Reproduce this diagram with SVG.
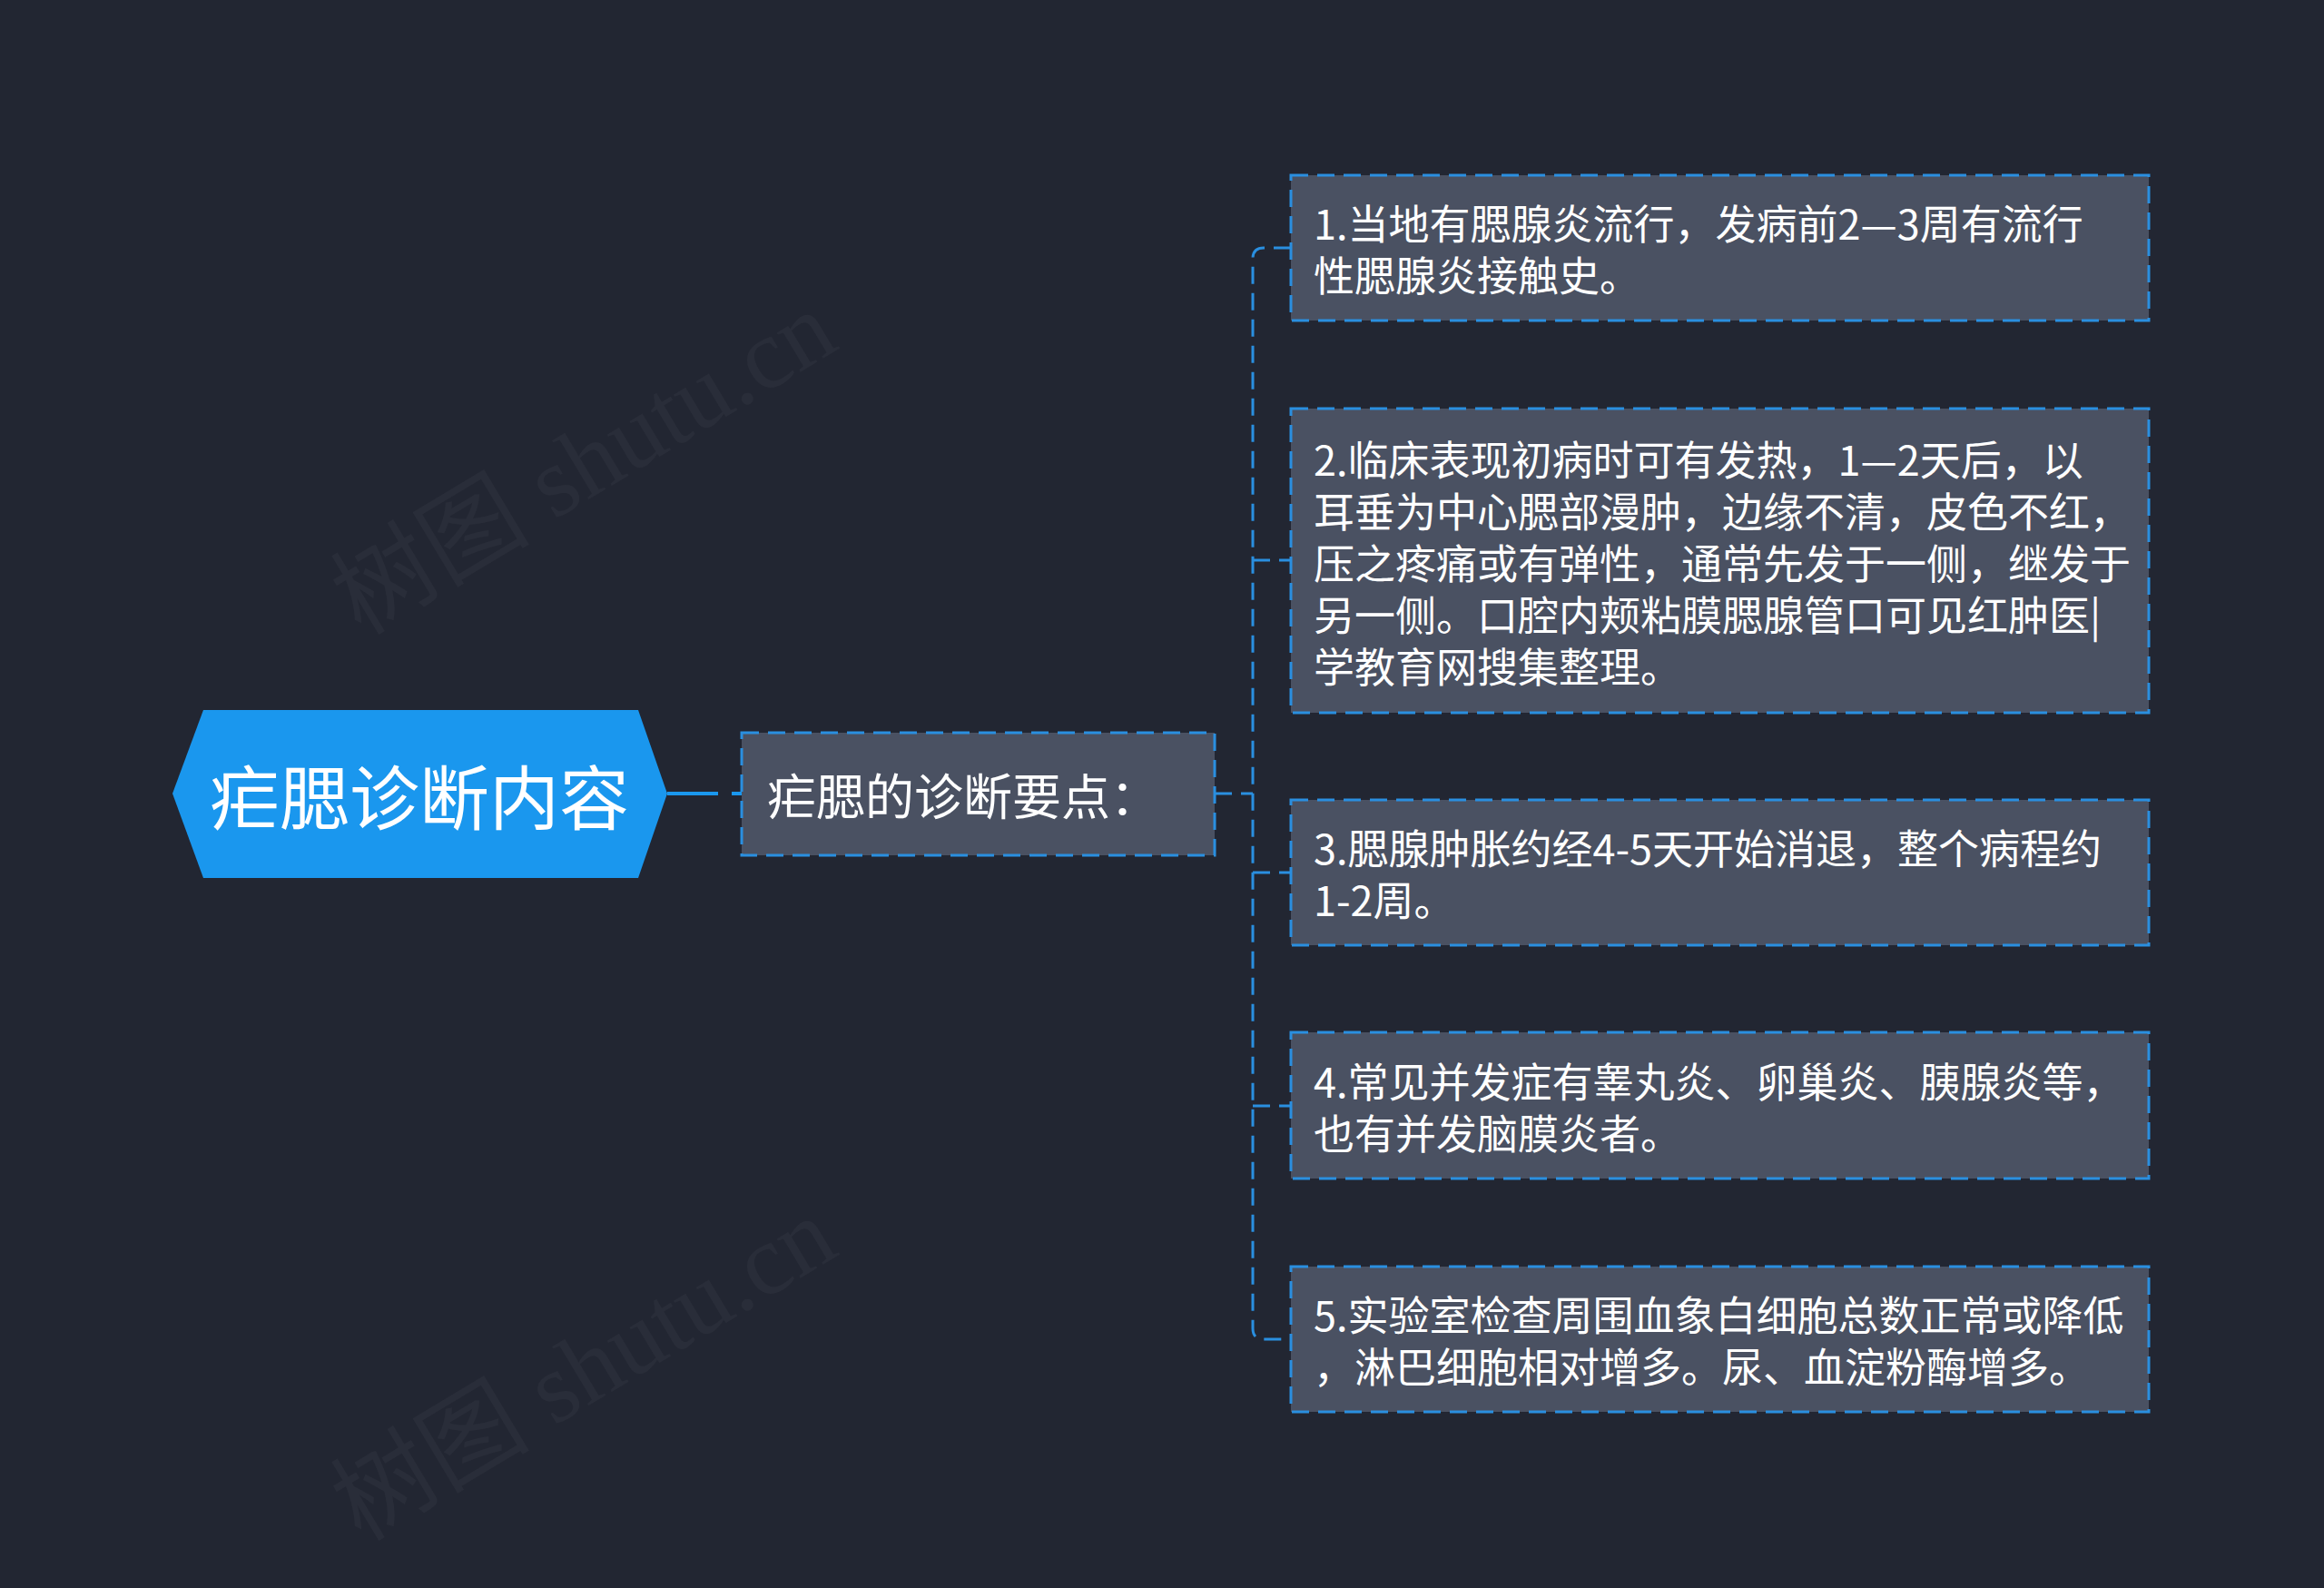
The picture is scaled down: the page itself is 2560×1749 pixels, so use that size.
<svg xmlns="http://www.w3.org/2000/svg" width="2560" height="1749" viewBox="0 0 2560 1749">
<style>
.bg{fill:#222632}
.leaf{fill:#4a5162;stroke:#2a8fe0;stroke-width:3;stroke-dasharray:19 10}
.t{fill:#ffffff;font-family:"Noto Sans CJK SC","Noto Sans",sans-serif;dominant-baseline:central}
.lt{font-size:45px}
.conn{fill:none;stroke:#2a8fe0;stroke-width:3;stroke-dasharray:19 10}
.wm{fill:#ffffff;fill-opacity:0.035;font-family:"Liberation Serif","Noto Sans CJK SC",serif;font-size:110px}
</style>
<rect class="bg" x="0" y="0" width="2560" height="1749"/>
<g id="watermarks">
<text class="wm" transform="translate(643,510) rotate(-31)" text-anchor="middle" dominant-baseline="central">树图 shutu.cn</text>
<text class="wm" transform="translate(643,1508) rotate(-31)" text-anchor="middle" dominant-baseline="central">树图 shutu.cn</text>
</g>
<g id="connectors">
<path d="M735,874 H817" fill="none" stroke="#1a97ee" stroke-width="4" stroke-dasharray="56 15"/>
<path class="conn" d="M1338,874 H1380"/>
<path class="conn" d="M1422,273 H1392 Q1380,273 1380,285 V1463 Q1380,1475 1392,1475 H1422"/>
<path class="conn" d="M1380,617 H1422"/>
<path class="conn" d="M1380,961 H1422"/>
<path class="conn" d="M1380,1218 H1422"/>
</g>
<g id="root">
<polygon points="190,874 224,782 703,782 735,874 703,967 224,967" fill="#1a97ee"/>
<text class="t" x="462" y="874" font-size="77" text-anchor="middle">疟腮诊断内容</text>
</g>
<g id="mid">
<rect class="leaf" x="817" y="807" width="521" height="135"/>
<text class="t" x="845" y="874" font-size="54">疟腮的诊断要点：</text>
</g>
<g id="leaf1">
<rect class="leaf" x="1422" y="193" width="945" height="160"/>
<text class="t lt" x="1447" y="244.5">1.当地有腮腺炎流行，发病前2—3周有流行</text>
<text class="t lt" x="1447" y="301.5">性腮腺炎接触史。</text>
</g>
<g id="leaf2">
<rect class="leaf" x="1422" y="450" width="945" height="335"/>
<text class="t lt" x="1447" y="504">2.临床表现初病时可有发热，1—2天后，以</text>
<text class="t lt" x="1447" y="561">耳垂为中心腮部漫肿，边缘不清，皮色不红，</text>
<text class="t lt" x="1447" y="618">压之疼痛或有弹性，通常先发于一侧，继发于</text>
<text class="t lt" x="1447" y="675">另一侧。口腔内颊粘膜腮腺管口可见红肿医|</text>
<text class="t lt" x="1447" y="732">学教育网搜集整理。</text>
</g>
<g id="leaf3">
<rect class="leaf" x="1422" y="881" width="945" height="160"/>
<text class="t lt" x="1447" y="932.5">3.腮腺肿胀约经4-5天开始消退，整个病程约</text>
<text class="t lt" x="1447" y="989.5">1-2周。</text>
</g>
<g id="leaf4">
<rect class="leaf" x="1422" y="1137" width="945" height="161"/>
<text class="t lt" x="1447" y="1189">4.常见并发症有睾丸炎、卵巢炎、胰腺炎等，</text>
<text class="t lt" x="1447" y="1246">也有并发脑膜炎者。</text>
</g>
<g id="leaf5">
<rect class="leaf" x="1422" y="1395" width="945" height="160"/>
<text class="t lt" x="1447" y="1446.5">5.实验室检查周围血象白细胞总数正常或降低</text>
<text class="t lt" x="1447" y="1503.5">，淋巴细胞相对增多。尿、血淀粉酶增多。</text>
</g>
</svg>
